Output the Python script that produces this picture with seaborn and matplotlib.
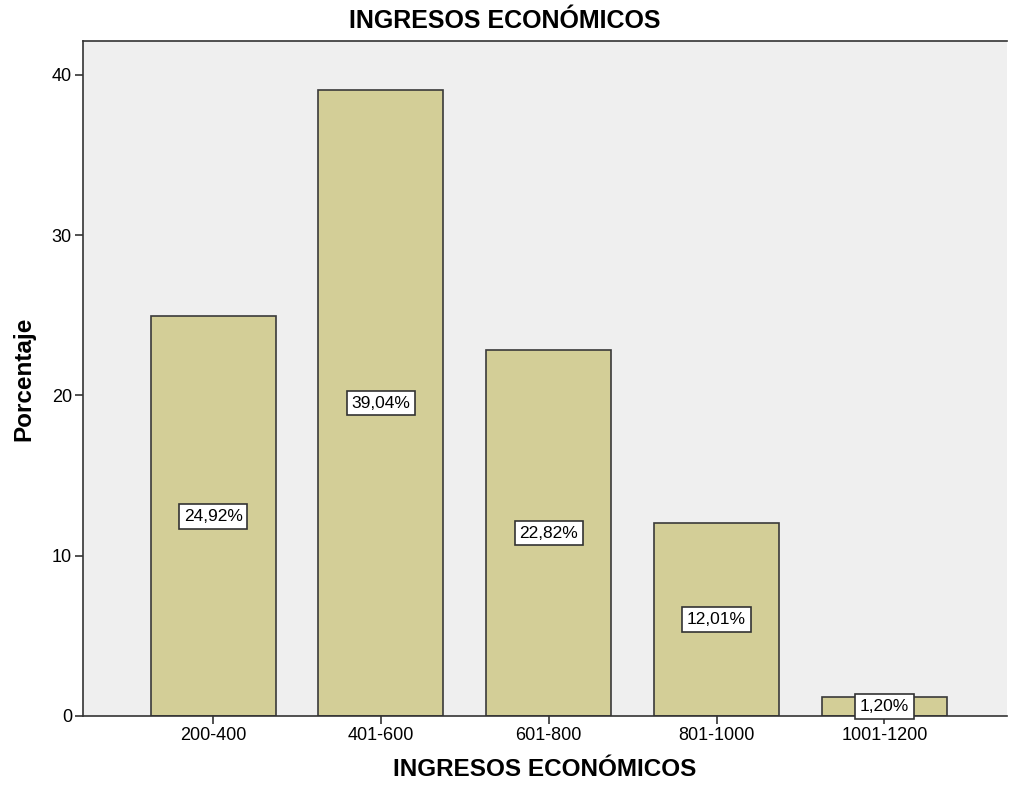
import matplotlib
matplotlib.use("Agg")
import matplotlib.pyplot as plt
import seaborn as sns
import pandas as pd

categories = ["200-400", "401-600", "601-800", "801-1000", "1001-1200"]
values = [24.92, 39.04, 22.82, 12.01, 1.20]
labels = ["24,92%", "39,04%", "22,82%", "12,01%", "1,20%"]
yticks = [0, 10, 20, 30, 40]

sns.set_theme(style="white")
plt.rcParams['font.family'] = ['Liberation Sans', 'DejaVu Sans']
plt.rcParams['text.color'] = 'black'
plt.rcParams['axes.labelcolor'] = 'black'
plt.rcParams['xtick.color'] = 'black'
plt.rcParams['ytick.color'] = 'black'

df = pd.DataFrame({"cat": categories, "val": values})

fig = plt.figure(figsize=(10.09, 7.91), dpi=100)
ax = fig.add_axes([83/1009, 75/791, 924/1009, 675/791])
ax.set_facecolor("#EFEFEF")

sns.barplot(data=df, x="cat", y="val", order=categories, color="#D3CE97",
            saturation=1, width=0.745, edgecolor="#3a3a3a", linewidth=1.2, ax=ax)

for i, (v, lab) in enumerate(zip(values, labels)):
    ax.text(i, v / 2, lab, ha="center", va="center", fontsize=12.5, color="black",
            bbox=dict(boxstyle="square,pad=0.28", facecolor="white", edgecolor="#333333", linewidth=1.2),
            zorder=5)

ax.set_xlim(-0.775, 4.73)
ax.set_ylim(0, 42.1)
ax.set_yticks(yticks)
ax.set_yticklabels([str(t) for t in yticks])
ax.tick_params(axis="both", which="both", direction="out", length=6, width=1.2,
               color="#333333", labelcolor="black", labelsize=13, bottom=True, left=True, pad=2)

for s in ["left", "bottom", "top"]:
    ax.spines[s].set_color("#333333")
    ax.spines[s].set_linewidth(1.2)
ax.spines["right"].set_visible(False)

fig.text(0.5, 1 - 21/791, "INGRESOS ECONÓMICOS", fontsize=18, fontweight="bold",
         ha="center", va="center", color="black")
ax.set_xlabel("INGRESOS ECONÓMICOS", fontsize=17.5, fontweight="bold", labelpad=10, color="black")
ax.set_ylabel("Porcentaje", fontsize=17.5, fontweight="bold", labelpad=12, color="black")

fig.savefig("out.png", dpi=100, facecolor="white")
